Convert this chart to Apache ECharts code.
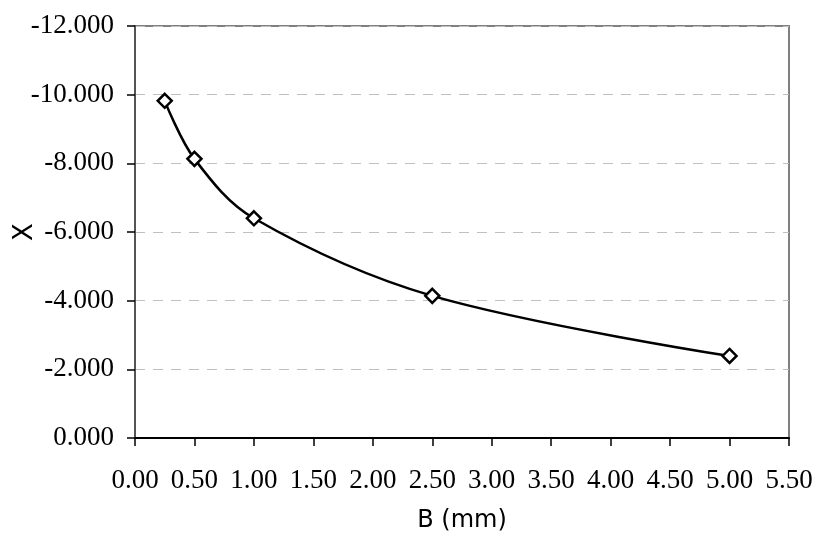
<!DOCTYPE html>
<html>
<head>
<meta charset="utf-8">
<script src="https://cdn.jsdelivr.net/npm/echarts@6/dist/echarts.min.js"></script>
<style>
  html, body { margin: 0; padding: 0; background: #fff; }
  #chart { width: 816px; height: 534px; }
</style>
</head>
<body>
<div id="chart"></div>
<script>
(function() {
  // data
  var bValues = [0.25, 0.5, 1.0, 2.5, 5.0];
  var xValues = [-9.82, -8.13, -6.40, -4.14, -2.39];

  var serif = '"Liberation Serif", "Times New Roman", serif';
  var sans = '"DejaVu Sans", Arial, sans-serif';

  var points = bValues.map(function(b, i) { return [b, xValues[i]]; });

  var chart = echarts.init(document.getElementById('chart'), null, { renderer: 'canvas' });
  chart.setOption({
    animation: false,
    backgroundColor: '#fff',
    grid: {
      left: 135, right: 27, top: 26, bottom: 96,
      outerBoundsMode: 'none',
      containLabel: false,
      show: true,
      borderColor: '#808080',
      borderWidth: 2
    },
    xAxis: {
      type: 'value',
      min: 0, max: 5.5, interval: 0.5,
      name: 'B (mm)',
      nameLocation: 'middle',
      nameMoveOverlap: false,
      nameGap: 71,
      nameTextStyle: { fontFamily: sans, fontSize: 24, color: '#000' },
      axisLine: { onZero: false, lineStyle: { color: '#000', width: 2 } },
      axisTick: { show: true, inside: false, length: 8, lineStyle: { color: '#000', width: 1.5 } },
      axisLabel: {
        color: '#000', fontFamily: serif, fontSize: 27, margin: 29,
        formatter: function(v) { return v.toFixed(2); }
      },
      splitLine: { show: false }
    },
    yAxis: {
      type: 'value',
      inverse: true,
      min: -12, max: 0, interval: 2,
      name: 'X',
      nameLocation: 'middle',
      nameMoveOverlap: false,
      nameRotate: 90,
      nameGap: 97,
      nameTextStyle: { fontFamily: '"Liberation Sans Narrow", ' + sans, fontSize: 26, color: '#000' },
      axisLine: { onZero: false, lineStyle: { color: '#555', width: 2 } },
      axisTick: { show: true, inside: false, length: 8, lineStyle: { color: '#000', width: 1.5 } },
      axisLabel: {
        color: '#000', fontFamily: serif, fontSize: 27, margin: 21,
        formatter: function(v) { return v.toFixed(3); }
      },
      splitLine: { show: true, lineStyle: { color: '#c0c0c0', type: [10, 8], width: 1 } }
    },
    series: [{
      type: 'line',
      data: points,
      smooth: 0.35,
      symbol: 'diamond',
      symbolSize: 14,
      lineStyle: { color: '#000', width: 2.5 },
      itemStyle: { color: '#fff', borderColor: '#000', borderWidth: 2.5 },
      z: 5
    }]
  });
  window.addEventListener('resize', function() { chart.resize(); });
})();
</script>
</body>
</html>
